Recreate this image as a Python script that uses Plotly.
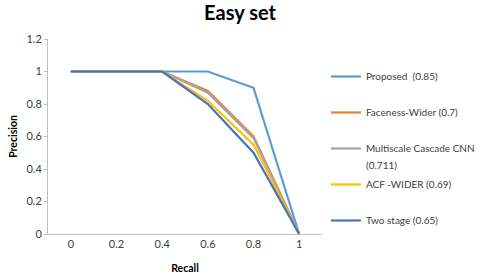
import plotly.graph_objects as go

recall = ["0", "0.2", "0.4", "0.6", "0.8", "1"]
proposed = [1, 1, 1, 1, 0.9, 0]
faceness = [1, 1, 1, 0.88, 0.6, 0]
multiscale = [1, 1, 1, 0.87, 0.59, 0]
acf = [1, 1, 1, 0.82, 0.55, 0]
two_stage = [1, 1, 1, 0.8, 0.5, 0]

names = ["Proposed  (0.85)", "Faceness-Wider (0.7)", "Multiscale Cascade CNN",
         "ACF -WIDER (0.69)", "Two stage (0.65)"]
series = [proposed, faceness, multiscale, acf, two_stage]
colors = ["#5B9BD5", "#ED7D31", "#A5A5A5", "#FFC000", "#4472C4"]
multiscale_suffix = "(0.711)"

fig = go.Figure()
for i, (n, s, c) in enumerate(zip(names, series, colors)):
    fig.add_trace(go.Scatter(x=recall, y=s, name=n, mode="lines",
                             line=dict(color=c, width=2.2), legendgroup=f"g{i}"))

font = "Lato, Liberation Sans, Arial, sans-serif"
fig.update_layout(
    width=480, height=278,
    margin=dict(l=48, r=158, t=39, b=44),
    paper_bgcolor="white", plot_bgcolor="white",
    font=dict(family=font, size=11, color="#404040"),
    title=dict(text="<b>Easy set</b>", x=0.5, xanchor="center", xref="container",
               y=0.953, yanchor="middle",
               font=dict(size=20, color="black", family=font)),
    xaxis=dict(type="category", range=[-0.5, 5.5], showline=True, linecolor="#BFBFBF",
               showgrid=False, ticks="", tickfont=dict(size=11, color="#404040"), automargin=False,
               title=dict(text="<b>Recall</b>", font=dict(size=10.5, color="black"), standoff=15)),
    yaxis=dict(range=[0, 1.2], dtick=0.2, showline=True, linecolor="#BFBFBF",
               showgrid=False, zeroline=False, ticks="outside", ticklen=3, tickcolor="#BFBFBF",
               tickfont=dict(size=11, color="#404040"), automargin=False,
               title=dict(text="<b>Precision</b>", font=dict(size=10.5, color="black"), standoff=6)),
    legend=dict(xref="container", yref="container", x=0.679, y=0.777, xanchor="left", yanchor="top",
                tracegroupgap=17, font=dict(size=10, color="#404040"), itemwidth=30,
                bgcolor="rgba(0,0,0,0)", maxheight=1),
    showlegend=True,
)
fig.add_annotation(text=multiscale_suffix, xref="paper", yref="paper", x=(364 - 48) / 274,
                   y=(234 - 165) / 195, xanchor="left", yanchor="middle", showarrow=False,
                   font=dict(size=10, color="#404040", family=font))
fig.write_html("out.html", post_script="document.body.style.margin='0';",
               config={"displayModeBar": False})
